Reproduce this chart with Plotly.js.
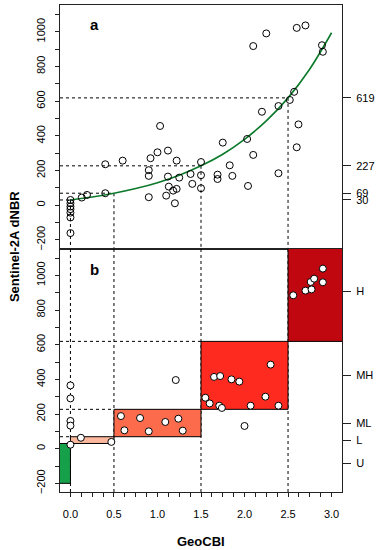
<!DOCTYPE html>
<html>
<head>
<meta charset="utf-8">
<script src="https://cdn.plot.ly/plotly-3.0.1.min.js"></script>
<style>html,body{margin:0;padding:0;background:#fff;}#chart{width:382px;height:550px;}</style>
</head>
<body>
<div id="chart"></div>
<script>
// ---- data ----
// Panel a: calibration points (GeoCBI vs Sentinel-2A dNBR)
const topX = [0,0,0,0,0,0,0, 0.13,0.19,0.40,0.40,0.60, 0.90,0.90,0.90,0.92,1.00,1.03, 1.12,1.12,1.13,1.10, 1.18,1.22,1.20,1.22,1.25, 1.38,1.40, 1.50,1.50,1.50, 1.69,1.69, 1.75,1.83,1.86, 2.03,2.04, 2.10,2.10, 2.20,2.25, 2.39,2.39, 2.52,2.57,2.60,2.62,2.60,2.70, 2.89,2.90];
const topY = [30,11,-8,-23,-43,-71,-161, 44,59,69,236,257, 202,169,46,271,305,457, 315,165,107,55, 84,94,11,257,159, 180,123, 249,173,98, 176,151, 361,230,169, 382,111, 290,918, 539,991, 184,572, 607,654,334,466,1023,1037, 923,885];
// fitted curve
const curveX = [0,0.25,0.5,0.75,1,1.25,1.5,1.75,2,2.25,2.5,2.75,3];
const curveY = [30,47,69,96,130,173,227,294,380,486,619,786,995];
// thresholds
const cbiThresh = [0, 0.5, 1.5, 2.5];
const dnbrThresh = [30, 69, 227, 619];
// Panel b: validation points
const botX = [0,0,0,0,0, 0.12,0.47, 0.58,0.62,0.80,0.90,1.09,1.24,1.29,1.21, 1.55,1.60,1.65,1.72,1.71,1.74,1.85,1.94,2.00,2.07,2.24,2.30,2.39, 2.56,2.70,2.77,2.76,2.80,2.90,2.90];
const botY = [365,290,160,133,23, 63,39, 188,106,177,100,154,173,104,396, 294,261,414,419,248,235,400,387,131,248,300,485,248, 885,912,919,962,981,1039,960];
// severity classes
const classLabels = ['U','L','ML','MH','H'];
const classCbiLo = [-0.3, 0, 0.5, 1.5, 2.5];
const classCbiHi = [0, 0.5, 1.5, 2.5, 3.5];
const classDnbrLo = [-200, 30, 69, 227, 619];
const classDnbrHi = [30, 69, 227, 619, 1200];
const threshLabels = ['30','69','227','619'];

// ---- styles ----
const classColors = ['#17a04a','#fcb89c','#fb6b4c','#ff2a1f','#c0070f'];
const FONT = 'Liberation Sans, Arial, sans-serif';
const XR = [-0.12, 3.12];
const YR = [-250, 1155];

const traces = [
  {x: curveX, y: curveY, xaxis:'x', yaxis:'y', mode:'lines', line:{color:'#0a7a2a', width:1.6, shape:'spline'}, hoverinfo:'skip', showlegend:false},
  {x: topX, y: topY, xaxis:'x', yaxis:'y', mode:'markers', marker:{symbol:'circle-open', size:7, color:'#000', line:{width:1}}, showlegend:false},
  {x: botX, y: botY, xaxis:'x2', yaxis:'y2', mode:'markers', marker:{symbol:'circle', size:7, color:'#fff', line:{width:1, color:'#000'}}, showlegend:false},
  {x: [], y: [], xaxis:'x', yaxis:'y3', mode:'markers', showlegend:false},
  {x: [], y: [], xaxis:'x2', yaxis:'y4', mode:'markers', showlegend:false}
];

const shapes = [];
const dot = {color:'#000', width:1, dash:'dot'};
cbiThresh.forEach((c, i) => {
  const d = dnbrThresh[i];
  // panel a
  shapes.push({type:'line', xref:'x', yref:'y', x0:XR[0], x1:c, y0:d, y1:d, line:dot, layer:'below'});
  shapes.push({type:'line', xref:'x', yref:'y', x0:c, x1:c, y0:d, y1:YR[0], line:dot, layer:'below'});
  // panel b
  shapes.push({type:'line', xref:'x2', yref:'y2', x0:c, x1:c, y0:YR[0], y1:YR[1], line:dot, layer:'below'});
  if (i > 0) shapes.push({type:'line', xref:'x2', yref:'y2', x0:XR[0], x1:cbiThresh[i-1], y0:d, y1:d, line:dot, layer:'below'});
});
classLabels.forEach((lab, k) => {
  shapes.push({type:'rect', xref:'x2', yref:'y2', x0:classCbiLo[k], x1:classCbiHi[k], y0:classDnbrLo[k], y1:classDnbrHi[k],
    fillcolor:classColors[k], line:{color:'#000', width:1}, layer:'below'});
});
const classMid = classLabels.map((l, k) => (classDnbrLo[k] + classDnbrHi[k]) / 2);

const leftAxis = {
  range: YR, showline:true, mirror:true, linecolor:'#222', linewidth:1, zeroline:false, showgrid:false,
  ticks:'outside', ticklen:4, tickcolor:'#222', dtick:200, tick0:0, tickangle:-90,
  minor:{dtick:100, tick0:0, ticks:'outside', ticklen:4, tickcolor:'#222', showgrid:false},
  tickfont:{family:FONT, size:11, color:'#000'}, ticklabelstandoff:6
};
const rightAxis = (over, anchor, vals, texts) => ({
  overlaying: over, anchor: anchor, side:'right', range: YR, showline:false, showgrid:false, zeroline:false,
  ticks:'outside', ticklen:8, tickcolor:'#222', tickmode:'array', tickvals: vals, ticktext: texts,
  tickfont:{family:FONT, size:11, color:'#000'}, ticklabelstandoff:3
});

const layout = {
  width:382, height:550,
  margin:{l:60, r:40, t:5, b:58, autoexpand:false},
  paper_bgcolor:'#fff', plot_bgcolor:'#fff',
  font:{family:FONT, size:11, color:'#000'},
  showlegend:false,
  xaxis:{domain:[0,1], anchor:'y', range:XR, showline:true, mirror:true, linecolor:'#222', linewidth:1,
    zeroline:false, showgrid:false, showticklabels:false, ticks:''},
  yaxis:Object.assign({domain:[0.5,1], anchor:'x'}, leftAxis),
  xaxis2:{domain:[0,1], anchor:'y2', range:XR, showline:true, mirror:true, linecolor:'#222', linewidth:1,
    zeroline:false, showgrid:false, ticks:'outside', ticklen:4, tickcolor:'#222', dtick:0.5, tick0:0, tickformat:'.1f',
    minor:{dtick:0.125, tick0:0, ticks:'outside', ticklen:4, tickcolor:'#222', showgrid:false},
    tickfont:{family:FONT, size:11, color:'#000'}, ticklabelstandoff:8},
  yaxis2:Object.assign({domain:[0,0.5], anchor:'x2'}, leftAxis),
  yaxis3:rightAxis('y', 'x', dnbrThresh, threshLabels),
  yaxis4:rightAxis('y2', 'x2', classMid, classLabels),
  shapes: shapes,
  annotations:[
    {text:'<b>a</b>', xref:'x', yref:'y', x:0.28, y:1040, showarrow:false, font:{family:FONT, size:15, color:'#000'}},
    {text:'<b>b</b>', xref:'x2', yref:'y2', x:0.28, y:1033, showarrow:false, font:{family:FONT, size:15, color:'#000'}},
    {text:'<b>Sentinel-2A dNBR</b>', xref:'paper', yref:'paper', x:-0.163, y:0.503, textangle:-90, showarrow:false,
      xanchor:'center', yanchor:'middle', font:{family:FONT, size:13, color:'#000'}},
    {text:'<b>GeoCBI</b>', xref:'paper', yref:'paper', x:0.5, y:-0.101, showarrow:false,
      xanchor:'center', yanchor:'middle', font:{family:FONT, size:13, color:'#000'}}
  ]
};

Plotly.newPlot('chart', traces, layout, {staticPlot:true, displayModeBar:false});
</script>
</body>
</html>
